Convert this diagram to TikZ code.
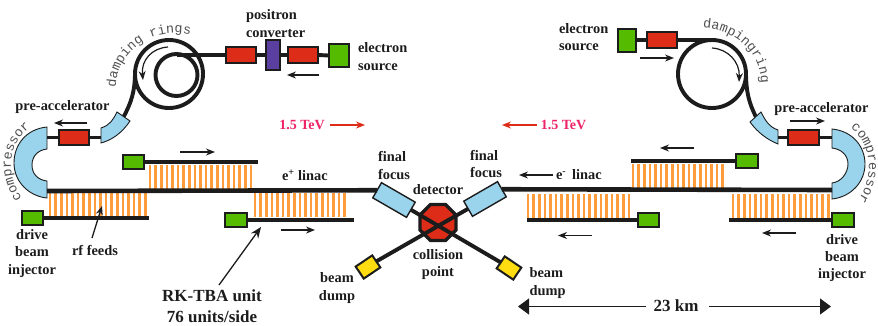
\documentclass[tikz,border=0pt]{standalone}
\usepackage{fontspec}
\setmainfont{Liberation Serif}
\newfontfamily\dmono{Liberation Mono}
\usetikzlibrary{arrows.meta,shapes.geometric,decorations.text}
\definecolor{cgreen}{HTML}{55BB00}
\definecolor{cred}{HTML}{DD2C18}
\definecolor{cpurple}{HTML}{5B3FA0}
\definecolor{cblue}{HTML}{9AD3EC}
\definecolor{cyellow}{HTML}{FFDD11}
\definecolor{corange}{HTML}{FF9D3C}
\definecolor{cink}{HTML}{1C1C1C}
\definecolor{cpink}{HTML}{EE2266}
\definecolor{cmono}{HTML}{505050}
\tikzset{
  x=1pt,y=-1pt,
  boxbase/.style={draw=cink,line width=2pt,inner sep=0pt,outer sep=0pt},
  gbox/.style={boxbase,fill=cgreen,minimum width=21.5pt,minimum height=14.5pt},
  rbox/.style={boxbase,fill=cred,minimum width=30.5pt,minimum height=15.5pt},
  ffbox/.style={draw=cink,line width=1.4pt,fill=cblue,inner sep=0pt,outer sep=0pt,minimum width=39pt,minimum height=17.5pt},
  dumpbox/.style={boxbase,fill=cyellow,minimum width=20pt,minimum height=14.5pt},
  bluepart/.style={draw=cink,line width=.9pt,fill=cblue},
  beam/.style={draw=cink,line width=4.6pt},
  thinbeam/.style={draw=cink,line width=3.9pt},
  stripe/.style={draw=corange,line width=2.6pt},
  flow/.style={draw=cink,line width=1.2pt,-{Stealth[length=9pt,width=7pt]}},
  lbl/.style={inner sep=0pt,outer sep=0pt,text=cink,align=center,font=\fontsize{14.4}{17.4}\selectfont\bfseries},
  biglbl/.style={lbl,font=\fontsize{17}{21}\selectfont\bfseries},
  tev/.style={lbl,text=cpink,font=\fontsize{14}{17}\selectfont\bfseries},
  along/.style={decorate,decoration={text along path,raise=0pt,text align=center,text={|\dmono\fontsize{13.4}{15}\selectfont\color{cmono}|#1}}},
}
\newcommand{\flowarrow}[4][flow]{%
  \coordinate (#2-s) at (#3); \coordinate (#2-e) at (#4);
  \draw[#1] (#2-s) -- (#2-e);}
\newcommand{\stripes}[4]{%
  \foreach \xx in {#1,#2,...,#3} {\draw[stripe] (\xx,#4) -- ++(0,24);}}
\begin{document}
\begin{tikzpicture}
\useasboundingbox (0,0) rectangle (878,325);
% ---- rf feed stripes
\stripes{50}{55.6}{146}{193}
\stripes{150}{155.6}{251}{165}
\stripes{255}{260.6}{350}{193}
\stripes{528}{533.6}{629}{194}
\stripes{633}{638.6}{728}{163.5}
\stripes{733}{738.6}{830}{194}
% ---- boxes
\node[rbox] (rA) at (241,55) {};
\node[boxbase,fill=cpurple,minimum width=14pt,minimum height=30pt] (conv) at (273,55) {};
\node[rbox] (rB) at (303,55) {};
\node[gbox,minimum width=20pt,minimum height=23pt] (srcL) at (338.5,55.5) {};
\node[gbox,minimum width=18pt,minimum height=23pt] (srcR) at (626.5,40) {};
\node[rbox] (rC) at (662,40) {};
\node[rbox] (rPL) at (74,137.5) {};
\node[rbox] (rPR) at (803.5,137.5) {};
\node[gbox] (gUL) at (133.5,162) {};
\node[gbox] (gLL) at (32.5,218) {};
\node[gbox] (gML) at (236,220) {};
\node[gbox] (gMR) at (648.5,220) {};
\node[gbox] (gUR) at (747,161) {};
\node[gbox] (gLR) at (843,220) {};
\node[ffbox,rotate=-30] (ffL) at (394,200) {};
\node[ffbox,rotate=30] (ffR) at (485,199) {};
\node[dumpbox,rotate=34] (dumpL) at (368,267) {};
\node[dumpbox,rotate=-34] (dumpR) at (509,268) {};
\node[regular polygon,regular polygon sides=8,draw=cink,line width=3.4pt,fill=cred,minimum size=39pt,inner sep=0pt,outer sep=0pt] (det) at (438,222.5) {};
% ---- damping rings
\coordinate (ringLc) at (169,74);
\coordinate (ringLi) at (176.5,75);
\coordinate (ringRc) at (712,74);
\draw[thinbeam] (ringLc) circle[radius=34pt];
\draw[thinbeam] (ringLi) circle[radius=21pt];
\draw[thinbeam] (ringRc) circle[radius=34pt];
% ---- bent parts
\coordinate (kickL) at (123.5,117);
\coordinate (kickR) at (756,117);
\coordinate (ringLexit) at (135,72);
\coordinate (ringRexit) at (746,72);
\draw[thinbeam] (ringLexit) .. controls (135,92) and (131,103) .. (kickL);
\draw[thinbeam] (ringRexit) .. controls (746,92) and (749,103) .. (kickR);
\path[bluepart] (101,128) .. controls (110,125) and (113,120) .. (117,112) -- (130,121) .. controls (122,133) and (112,140) .. (101,143) -- cycle;
\path[bluepart] (778,130) .. controls (769,127) and (765,120) .. (761,112) -- (750,122) .. controls (758,133) and (768,140) .. (778,144) -- cycle;
\path[bluepart] (47,127) .. controls (26,129) and (14,145) .. (14,163) .. controls (14,181) and (28,196) .. (47,198) -- (47,181) .. controls (38,180) and (32,174) .. (32,165) .. controls (32,156) and (38,150) .. (47,149) -- cycle;
\path[bluepart] (832,129) .. controls (853,131) and (865,147) .. (865,164) .. controls (865,182) and (851,197) .. (832,199) -- (832,183) .. controls (841,182) and (848,173) .. (848,164) .. controls (848,155) and (841,149) .. (832,148) -- cycle;
\coordinate (compLa) at (47,137.5);
\coordinate (compLb) at (47,191);
\coordinate (compRa) at (832,137.5);
\coordinate (compRb) at (832,190);
\coordinate (kickLa) at (101,137.5);
\coordinate (kickRa) at (778,137.5);
% ---- connectors
\draw[thinbeam] (rA.west) -- (176.5,55);
\draw[thinbeam] (rC.east) -- (712,40);
\draw[thinbeam] (rA.east) -- (conv.west);
\draw[thinbeam] (conv.east) -- (rB.west);
\draw[thinbeam] (rB.east) -- (srcL.west);
\draw[thinbeam] (srcR.east) -- (rC.west);
\draw[thinbeam] (compLa) -- (rPL.west);
\draw[thinbeam] (rPL.east) -- (kickLa);
\draw[thinbeam] (kickRa) -- (rPR.west);
\draw[thinbeam] (rPR.east) -- (compRa);
\draw[beam] (compLb) -- (ffL.west);
\draw[beam] (ffR.east) -- (compRb);
\coordinate (ulEnd) at (258,163);
\coordinate (llEnd) at (149,219);
\coordinate (mlEnd) at (354,220);
\coordinate (mrEnd) at (527,220);
\coordinate (urEnd) at (631,161);
\coordinate (lrEnd) at (729,220);
\draw[beam] (gUL.east) -- (ulEnd |- gUL.east);
\draw[beam] (gLL.east) -- (llEnd |- gLL.east);
\draw[beam] (gML.east) -- (mlEnd |- gML.east);
\draw[beam] (gMR.west) -- (mrEnd |- gMR.west);
\draw[beam] (gUR.west) -- (urEnd |- gUR.west);
\draw[beam] (gLR.west) -- (lrEnd |- gLR.west);
\draw[thinbeam] (ffL.east) -- (dumpR.west);
\draw[thinbeam] (ffR.west) -- (dumpL.east);
% ---- direction arrows
\flowarrow{a1}{319,75}{287,75}
\flowarrow{a2}{87,123}{54,123}
\flowarrow{a3}{180,152}{215,152}
\flowarrow{a4}{281,230}{315,230}
\flowarrow{a5}{553,175}{519,175}
\flowarrow{a6}{592,235.5}{558,235.5}
\flowarrow{a7}{694,148}{660,148}
\flowarrow{a8}{796,233}{762,233}
\flowarrow{a9}{640,58}{674,58}
\flowarrow{a10}{790,121}{825,121}
\flowarrow[flow,draw=cred]{t1}{330,125}{365,125}
\flowarrow[flow,draw=cred]{t2}{537,125}{502,125}
\coordinate (ra-s) at (168,47);
\coordinate (ra-e) at (143,80);
\draw[flow] (ra-s) .. controls (152,48) and (141,60) .. (ra-e);
\coordinate (rb-s) at (712,48);
\coordinate (rb-e) at (739,82);
\draw[flow] (rb-s) .. controls (728,49) and (740,62) .. (rb-e);
\coordinate (rf-s) at (92,238);
\coordinate (rf-e) at (102,206);
\draw[flow,line width=1.3pt] (rf-s) -- (rf-e);
\coordinate (rk-s) at (219,285);
\coordinate (rk-e) at (261,227);
\draw[flow,line width=1.3pt,-{Stealth[length=11pt,width=9pt]}] (rk-s) -- (rk-e);
% ---- 23 km dimension
\node[biglbl] (km) at (676,306) {23 km};
\coordinate (kmL) at (518,306.5);
\coordinate (kmR) at (831,306.5);
\draw[draw=cink,line width=1.2pt,-{Triangle[length=11pt,width=16pt]}] (km.west) ++(-8,.5) -- (kmL);
\draw[draw=cink,line width=1.2pt,-{Triangle[length=11pt,width=16pt]}] (km.east) ++(11,.5) -- (kmR);
% ---- labels
\node[lbl,align=left,anchor=west] (tconv) at (246,23.5) {positron\\converter};
\node[lbl,align=left,anchor=west] (tsrcL) at (358,56.5) {electron\\source};
\node[lbl,align=left,anchor=west] (tsrcR) at (559,37) {electron\\source};
\node[lbl] (tpreL) at (62.5,107) {pre-accelerator};
\node[lbl] (tpreR) at (821.5,109) {pre-accelerator};
\node[lbl] (tdrL) at (32,253.5) {drive\\beam\\injector};
\node[lbl] (tdrR) at (842,258) {drive\\beam\\injector};
\node[lbl] (trf) at (95,250) {rf feeds};
\node[biglbl] (trk) at (212,306.5) {RK-TBA unit\\76 units/side};
\node[lbl,anchor=west] (tlinL) at (282,175) {e\textsuperscript{+} linac};
\node[lbl,anchor=west] (tlinR) at (556,175) {e\textsuperscript{-}\, linac};
\node[lbl,align=left,anchor=west] (tffL) at (378,165.5) {final\\focus};
\node[lbl,align=left,anchor=west] (tffR) at (470,164) {final\\focus};
\node[lbl] (tdet) at (438,190) {detector};
\node[lbl] (tcol) at (438,264.5) {collision\\point};
\node[lbl] (tdL) at (337,288) {beam\\dump};
\node[lbl,align=left,anchor=west] (tdR) at (529.5,283) {beam\\dump};
\node[tev] (tevL) at (302,125) {1.5 TeV};
\node[tev] (tevR) at (563.5,125) {1.5 TeV};
% ---- curved monospaced labels
\coordinate (dl1) at (116,84);
\coordinate (dl2) at (187,34);
\coordinate (dr1) at (704,28);
\coordinate (dr2) at (761,82);
\coordinate (cl1) at (21,197);
\coordinate (cl2) at (29,128);
\coordinate (cr1) at (852,129);
\coordinate (cr2) at (859,199);
\path[along={damping rings}] (dl1) .. controls (119,52) and (150,28) .. (dl2);
\path[along={dampingring}] (dr1) .. controls (735,30) and (760,52) .. (dr2);
\path[along={compressor}] (cl1) .. controls (7,175) and (6,147) .. (cl2);
\path[along={compressor}] (cr1) .. controls (873,147) and (873,178) .. (cr2);
\end{tikzpicture}
\end{document}
